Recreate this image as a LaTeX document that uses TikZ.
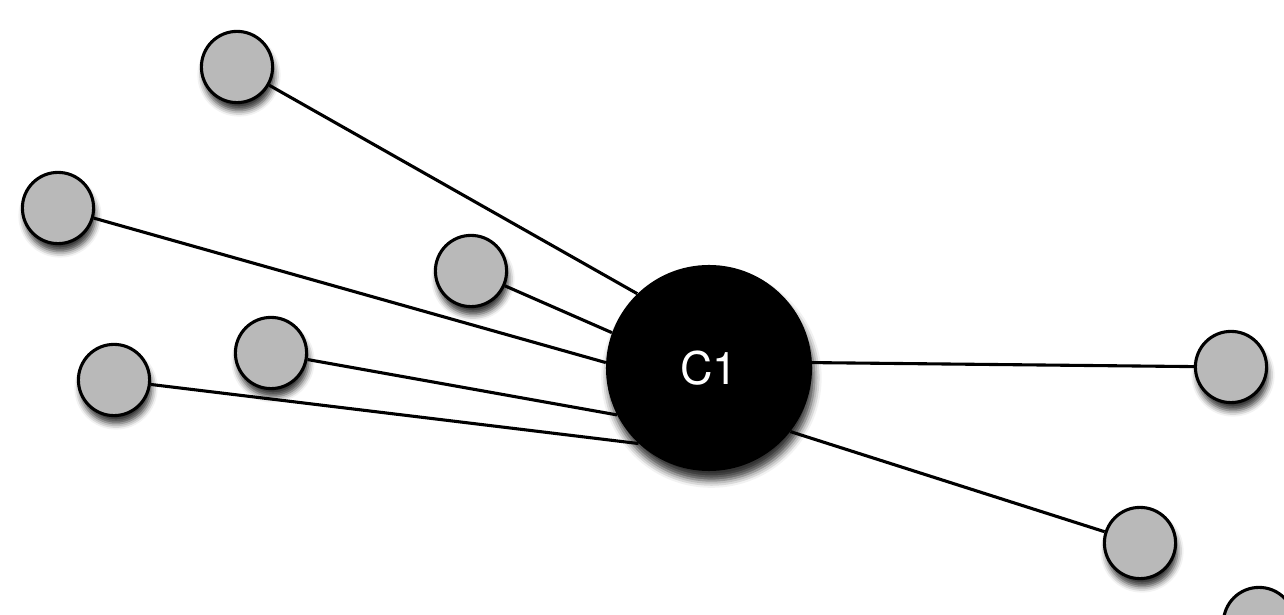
\documentclass[tikz,border=0pt]{standalone}
\usepackage{fontspec}
\setsansfont{TeX Gyre Heros}
\usetikzlibrary{shadows.blur}

\begin{document}
\begin{tikzpicture}[
  x=0.025cm, y=-0.025cm,
  leaf/.style={circle, draw, line width=2.2pt, fill={rgb,255:red,185;green,185;blue,185}, minimum size=1.78cm, inner sep=0pt,
    blur shadow={shadow xshift=0.5mm, shadow yshift=-2mm, shadow blur radius=1.5mm, shadow opacity=80}},
  hub/.style={circle, fill=black, minimum size=5.15cm, inner sep=0pt, text=white, font=\sffamily\fontsize{32}{34}\selectfont,
    blur shadow={shadow xshift=0.6mm, shadow yshift=-2.4mm, shadow blur radius=1.8mm, shadow opacity=80}},
  link/.style={line width=2.2pt}
]
\useasboundingbox (0,0) rectangle (1284,615);

\node[hub] (c1) at (709,368) {C1};

\node[leaf] (n1) at (237,67) {};
\node[leaf] (n2) at (58,208) {};
\node[leaf] (n3) at (471,271) {};
\node[leaf] (n4) at (271,353) {};
\node[leaf] (n5) at (114,380) {};
\node[leaf] (n6) at (1231,367) {};
\node[leaf] (n7) at (1140,543) {};
\node[leaf] (n8) at (1259,623) {};

\draw[link] (n1) -- (c1.134);
\draw[link] (n3) -- (c1.160);
\draw[link] (n2) -- (c1.177);
\draw[link] (n4) -- (c1.207);
\draw[link] (n5) -- (c1.227);
\draw[link] (c1.3) -- (n6);
\draw[link] (c1.322) -- (n7);
\end{tikzpicture}
\end{document}
